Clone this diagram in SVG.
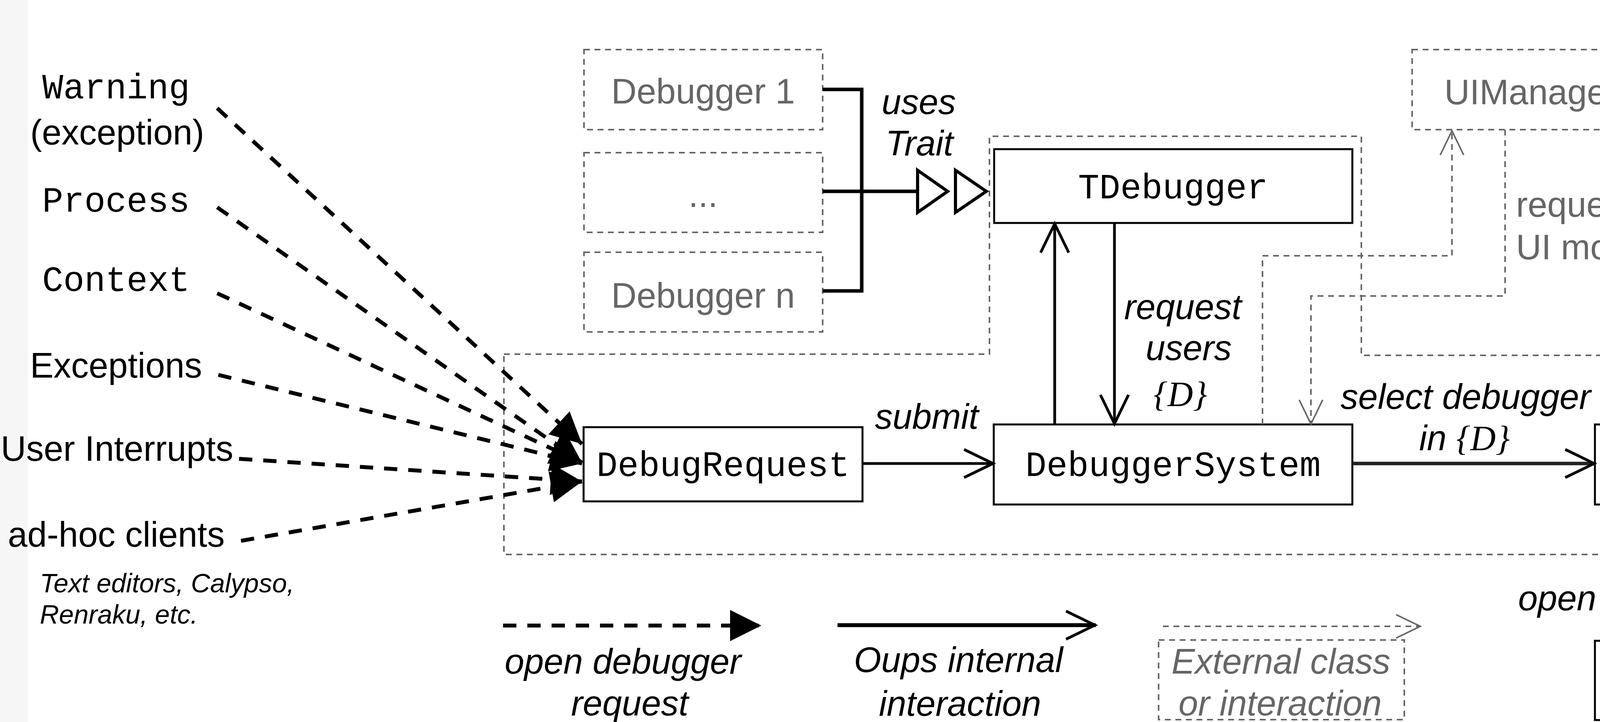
<svg xmlns="http://www.w3.org/2000/svg" width="5079" height="1849" viewBox="0 0 5079 1849">
<style>
.mono{font-family:"Liberation Mono","Courier New",monospace;font-size:90px;fill:#000}
.sans{font-family:"Liberation Sans",Arial,sans-serif;font-size:90px;fill:#000}
.serif{font-family:"Liberation Serif","Times New Roman",serif;font-style:italic}
.it{font-style:italic}
.small{font-size:68px}
.gray{fill:#666}
.mid{text-anchor:middle}
.end{text-anchor:end}
.box{fill:#fff;stroke:#000;stroke-width:5}
.gbox{fill:none;stroke:#666;stroke-width:4;stroke-dasharray:15 12}
.req{fill:none;stroke:#000;stroke-width:10;stroke-dasharray:34 28;marker-end:url(#fillhead)}
.solid{fill:none;stroke:#000;stroke-width:7;marker-end:url(#openhead)}
.gline{fill:none;stroke:#666;stroke-width:4;stroke-dasharray:15 12;marker-end:url(#grayhead)}
.bar{fill:none;stroke:#000;stroke-width:9}
.tri{fill:#fff;stroke:#000;stroke-width:8;stroke-linejoin:miter}
</style>
<defs>
<marker id="fillhead" markerUnits="userSpaceOnUse" markerWidth="82" markerHeight="82" refX="80" refY="40" orient="auto" overflow="visible">
<path d="M0,0 L80,40 L0,80 Z" fill="#000"/>
</marker>
<marker id="openhead" markerUnits="userSpaceOnUse" markerWidth="90" markerHeight="90" refX="78" refY="36" orient="auto" overflow="visible">
<path d="M2,0 L76,36 L2,72" fill="none" stroke="#000" stroke-width="7"/>
</marker>
<marker id="grayhead" markerUnits="userSpaceOnUse" markerWidth="70" markerHeight="70" refX="63" refY="30" orient="auto" overflow="visible">
<path d="M0,0 L62,30 L0,60" fill="none" stroke="#666" stroke-width="4"/>
</marker>
</defs>
<rect x="0" y="0" width="5079" height="1849" fill="#fff"/>
<rect x="0" y="0" width="71" height="1849" fill="#f6f6f6"/>

<g id="exception-handler">
<path class="gbox" d="M1290,907 L2533,907 L2533,349 L3485,349 L3485,910 L5062,910 L5062,1420 L1290,1420 Z"/>
<text class="sans gray end" x="5044" y="867">Exception handler</text>
</g>

<g id="node-warning"><text class="mono" x="108" y="252">Warning</text><text class="sans mid" x="300" y="370">(exception)</text></g>
<g id="node-process"><text class="mono" x="108" y="542">Process</text></g>
<g id="node-context"><text class="mono" x="108" y="745">Context</text></g>
<g id="node-exceptions"><text class="sans" x="77" y="967">Exceptions</text></g>
<g id="node-userinterrupts"><text class="sans" x="2" y="1180">User Interrupts</text></g>
<g id="node-adhoc"><text class="sans" x="20" y="1400">ad-hoc clients</text>
<text class="sans it small" x="102" y="1517">Text editors, Calypso,</text>
<text class="sans it small" x="102" y="1597">Renraku, etc.</text></g>

<g id="node-debugger1"><rect class="gbox" x="1495" y="127" width="611" height="205"/><text class="sans gray mid" x="1800" y="265">Debugger 1</text></g>
<g id="node-debuggerdots"><rect class="gbox" x="1495" y="391" width="611" height="204"/><text class="sans gray mid" x="1800" y="530">...</text></g>
<g id="node-debuggern"><rect class="gbox" x="1495" y="646" width="611" height="204"/><text class="sans gray mid" x="1800" y="788">Debugger n</text></g>

<g id="node-tdebugger"><rect class="box" x="2545" y="382" width="917" height="189"/><text class="mono mid" x="3003" y="508">TDebugger</text></g>
<g id="node-debugrequest"><rect class="box" x="1494" y="1094" width="714" height="190"/><text class="mono mid" x="1851" y="1219">DebugRequest</text></g>
<g id="node-debuggersystem"><rect class="box" x="2544" y="1087" width="918" height="205"/><text class="mono mid" x="3003" y="1219">DebuggerSystem</text></g>
<g id="node-strategy"><rect class="box" x="4083" y="1087" width="920" height="205"/><text class="sans mid" x="4543" y="1177">debugger selection</text><text class="sans mid" x="4543" y="1280">strategy</text></g>
<g id="node-selected"><rect class="box" x="4083" y="1641" width="920" height="203"/><text class="sans mid" x="4543" y="1779">selected debugger</text></g>
<g id="node-uimanager"><rect class="gbox" x="3615" y="127" width="610" height="205"/><text class="sans gray mid" x="3920" y="267">UIManager</text></g>
<g id="node-emergency"><rect class="gbox" x="4419" y="127" width="610" height="205"/><text class="sans gray mid" x="4724" y="215">Emergency</text><text class="sans gray mid" x="4724" y="321">Evaluator</text></g>

<g id="connectors">
<path class="req" d="M556,277 L1490,1137"/>
<path class="req" d="M556,531 L1490,1185"/>
<path class="req" d="M556,751 L1490,1185"/>
<path class="req" d="M559,960 L1490,1187"/>
<path class="req" d="M612,1175 L1490,1233"/>
<path class="req" d="M617,1385 L1490,1233"/>

<path class="bar" d="M2106,229 L2206,229 L2206,745 L2106,745"/>
<path class="bar" d="M2106,490 L2349,490"/>
<polygon class="tri" points="2349,436 2426,490 2349,544"/>
<polygon class="tri" points="2446,436 2525,490 2446,544"/>
<text class="sans it" x="2257" y="292">uses</text>
<text class="sans it" x="2267" y="398">Trait</text>

<path class="solid" d="M2208,1187 L2544,1187"/>
<text class="sans it" x="2240" y="1098">submit</text>
<path class="solid" d="M2700,1087 L2700,571"/>
<path class="solid" d="M2853,571 L2853,1087"/>
<text class="sans it" x="2878" y="817">request</text>
<text class="sans it" x="2933" y="922">users</text>
<text class="sans serif" x="2953" y="1040">{D}</text>

<path class="solid" d="M3462,1187 L4083,1187" style="stroke:#222;stroke-width:9"/>
<text class="sans it" x="3432" y="1047">select debugger</text>
<text class="sans it" x="3633" y="1153">in <tspan class="serif">{D}</tspan></text>

<path class="solid" d="M4543,1292 L4543,1641"/>
<text class="sans it end" x="4492" y="1563">open debugger</text>

<path class="gline" d="M3232,1087 L3232,655 L3717,655 L3717,334"/>
<path class="gline" d="M3853,332 L3853,758 L3356,758 L3356,1087"/>
<text class="sans gray" x="3881" y="555">request</text>
<text class="sans gray" x="3881" y="664">UI mode</text>
<path class="gline" d="M4733,910 L4733,334"/>
<text class="sans gray end" x="4715" y="555">primitive</text>
<text class="sans gray end" x="4715" y="664">error</text>
</g>

<g id="legend">
<path class="req" d="M1288,1602 L1949,1602"/>
<text class="sans it" x="1292" y="1725">open debugger</text>
<text class="sans it" x="1462" y="1832">request</text>
<path class="solid" d="M2144,1601 L2805,1601" style="stroke-width:10"/>
<text class="sans it" x="2186" y="1721">Oups internal</text>
<text class="sans it" x="2250" y="1833">interaction</text>
<path class="gline" d="M2977,1604 L3637,1604"/>
<rect class="gbox" x="2966" y="1639" width="629" height="204"/>
<text class="sans it gray" x="2999" y="1725">External class</text>
<text class="sans it gray" x="3017" y="1832">or interaction</text>
</g>
</svg>
